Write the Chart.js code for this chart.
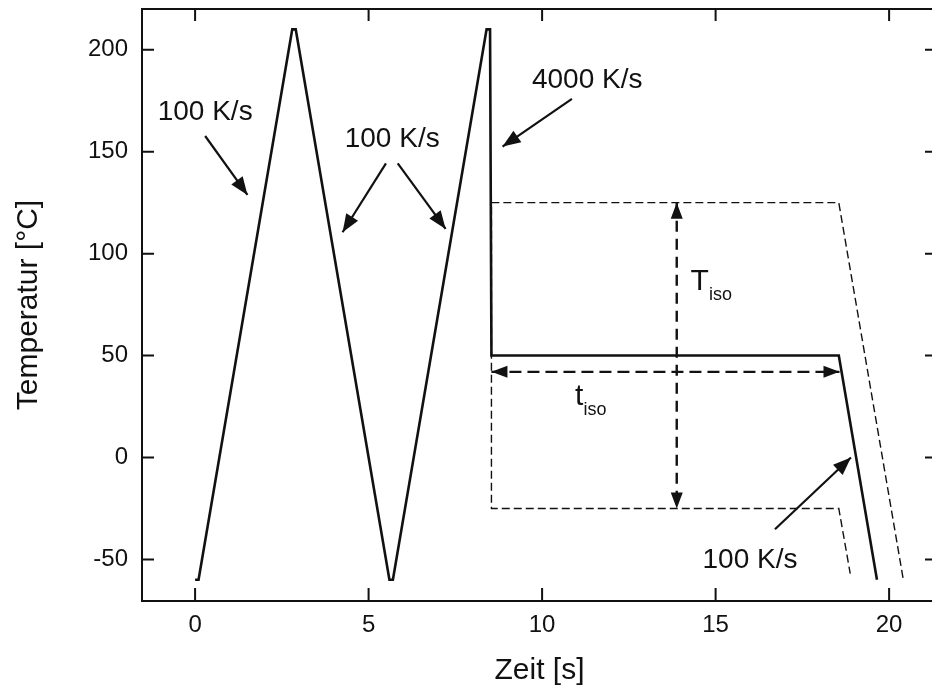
<!DOCTYPE html>
<html lang="de">
<head>
<meta charset="utf-8">
<title>Temperaturprogramm</title>
<script src="https://cdn.jsdelivr.net/npm/chart.js@4.4.1/dist/chart.umd.min.js"></script>
<style>
    html, body { margin: 0; padding: 0; background: #fff; overflow: hidden; }
    .chart-box { position: relative; width: 940px; height: 693px; }
</style>
</head>
<body>
<div class="chart-box">
    <canvas id="tempChart"></canvas>
</div>
<script>
// Temperature programme (time in s, temperature in °C)
const tempTime = [0, 0.1, 2.8, 2.9, 5.6, 5.7, 8.4, 8.5, 8.54, 18.55, 19.65];
const tempValue = [-60, -60, 210, 210, -60, -60, 210, 210, 50, 50, -60];

// Range of isothermal temperatures (dashed envelope)
const envTime = [20.4, 18.55, 8.54, 8.54, 18.55, 18.88];
const envValue = [-59, 125, 125, -25, -25, -57];

// Double arrows for t_iso and T_iso
const holdArrowTime = [8.54, 18.57];
const holdArrowValue = [42, 42];
const stepArrowTime = [13.88, 13.88];
const stepArrowValue = [125, -25];

// Heating / cooling rate arrows: start point -> tip
const rateArrowStartTime = [0.29, 5.50, 5.84, 10.86, 16.71];
const rateArrowStartValue = [157.7, 144.3, 144.3, 175.9, -35.2];
const rateArrowTipTime = [1.51, 4.25, 7.22, 8.86, 18.9];
const rateArrowTipValue = [128.8, 110.5, 112.1, 152.5, 0];

// Rate labels
const rateLabels = ['100 K/s', '100 K/s', '4000 K/s', '100 K/s'];
const rateLabelTime = [0.29, 5.68, 11.30, 15.99];
const rateLabelValue = [165.6, 152.5, 181.3, -54.3];

// Iso labels (main letter + subscript)
const isoLabels = ['T', 't'];
const isoLabelTime = [14.28, 10.95];
const isoLabelValue = [82.4, 25.7];

// Axis ticks
const xTicks = [0, 5, 10, 15, 20];
const yTicks = [-50, 0, 50, 100, 150, 200];

const FONT = '"Liberation Sans", Arial, sans-serif';
const INK = '#111';

function toPoints(xs, ys) {
    return xs.map((v, i) => ({ x: v, y: ys[i] }));
}

const lineDefaults = {
    showLine: true,
    pointRadius: 0,
    pointHoverRadius: 0,
    borderColor: INK,
    tension: 0,
    fill: false
};

const datasets = [
    Object.assign({}, lineDefaults, {
        label: 'Programm',
        data: toPoints(tempTime, tempValue),
        borderWidth: 2.6
    }),
    Object.assign({}, lineDefaults, {
        label: 'Bereich',
        data: toPoints(envTime, envValue),
        borderWidth: 1.4,
        borderDash: [8, 4]
    }),
    Object.assign({}, lineDefaults, {
        label: 't_iso',
        data: toPoints(holdArrowTime, holdArrowValue),
        borderWidth: 2.4,
        borderDash: [12, 6],
        arrow: 'both'
    }),
    Object.assign({}, lineDefaults, {
        label: 'T_iso',
        data: toPoints(stepArrowTime, stepArrowValue),
        borderWidth: 2.4,
        borderDash: [11, 7],
        arrow: 'both'
    })
];

rateArrowStartTime.forEach((t, i) => {
    datasets.push(Object.assign({}, lineDefaults, {
        label: 'Rate ' + i,
        data: toPoints([t, rateArrowTipTime[i]], [rateArrowStartValue[i], rateArrowTipValue[i]]),
        borderWidth: 2.2,
        arrow: 'end'
    }));
});

function drawHead(ctx, fx, fy, tx, ty, len, half) {
    const ang = Math.atan2(ty - fy, tx - fx);
    ctx.save();
    ctx.translate(tx, ty);
    ctx.rotate(ang);
    ctx.beginPath();
    ctx.moveTo(0, 0);
    ctx.lineTo(-len, -half);
    ctx.lineTo(-len, half);
    ctx.closePath();
    ctx.fill();
    ctx.restore();
}

// Frame, inward ticks, arrow heads and text annotations
const decorations = {
    id: 'decorations',
    afterDatasetsDraw(chart) {
        const { ctx, chartArea: a, scales: { x, y } } = chart;
        ctx.save();
        ctx.strokeStyle = INK;
        ctx.fillStyle = INK;
        ctx.lineWidth = 2;
        ctx.setLineDash([]);
        ctx.strokeRect(a.left, a.top, a.right - a.left, a.bottom - a.top);

        ctx.beginPath();
        xTicks.forEach(v => {
            const px = x.getPixelForValue(v);
            ctx.moveTo(px, a.bottom);
            ctx.lineTo(px, a.bottom - 13);
            ctx.moveTo(px, a.top);
            ctx.lineTo(px, a.top + 12);
        });
        yTicks.forEach(v => {
            const py = y.getPixelForValue(v);
            ctx.moveTo(a.left, py);
            ctx.lineTo(a.left + 12, py);
            ctx.moveTo(a.right, py);
            ctx.lineTo(a.right - 12, py);
        });
        ctx.stroke();

        // arrow heads (double arrows a bit slimmer than the rate arrows)
        chart.data.datasets.forEach(ds => {
            if (!ds.arrow) return;
            const p = ds.data.map(d => [x.getPixelForValue(d.x), y.getPixelForValue(d.y)]);
            const n = p.length - 1;
            const both = ds.arrow === 'both';
            const len = both ? 16 : 18;
            const half = both ? 6 : 7;
            drawHead(ctx, p[n - 1][0], p[n - 1][1], p[n][0], p[n][1], len, half);
            if (both) drawHead(ctx, p[1][0], p[1][1], p[0][0], p[0][1], len, half);
        });

        // rate labels
        ctx.font = '28px ' + FONT;
        ctx.textAlign = 'center';
        ctx.textBaseline = 'alphabetic';
        rateLabels.forEach((txt, i) => {
            ctx.fillText(txt, x.getPixelForValue(rateLabelTime[i]), y.getPixelForValue(rateLabelValue[i]));
        });

        // T_iso / t_iso
        ctx.textAlign = 'left';
        isoLabels.forEach((txt, i) => {
            const px = x.getPixelForValue(isoLabelTime[i]);
            const py = y.getPixelForValue(isoLabelValue[i]);
            ctx.font = '30px ' + FONT;
            ctx.fillText(txt, px, py);
            const w = ctx.measureText(txt).width;
            ctx.font = '18px ' + FONT;
            ctx.fillText('iso', px + w, py + 10);
        });
        ctx.restore();
    }
};

const tickFont = { family: FONT, size: 24 };
const titleFont = { family: FONT, size: 30 };

new Chart(document.getElementById('tempChart'), {
    type: 'scatter',
    data: { datasets },
    options: {
        responsive: true,
        maintainAspectRatio: false,
        animation: false,
        layout: { padding: { top: 9, right: 3, left: 0, bottom: 0 } },
        plugins: {
            legend: { display: false },
            tooltip: { enabled: false }
        },
        scales: {
            x: {
                type: 'linear',
                min: -1.53,
                max: 21.38,
                afterBuildTicks: s => { s.ticks = xTicks.map(v => ({ value: v })); },
                afterFit: s => {
                    s.height = 92;
                    s.paddingLeft = 0;
                    s.paddingRight = 0;
                },
                grid: { display: false, drawTicks: false },
                border: { display: false },
                ticks: { color: INK, font: tickFont, padding: 10, maxRotation: 0 },
                title: { display: true, text: 'Zeit [s]', color: INK, font: titleFont, padding: { top: 4, bottom: 4 } }
            },
            y: {
                type: 'linear',
                min: -70.4,
                max: 220,
                afterBuildTicks: s => { s.ticks = yTicks.map(v => ({ value: v })); },
                afterFit: s => {
                    s.width = 142;
                    s.paddingTop = 0;
                    s.paddingBottom = 0;
                },
                grid: { display: false, drawTicks: false },
                border: { display: false },
                ticks: { color: INK, font: tickFont, padding: 14 },
                title: { display: true, text: 'Temperatur [°C]', color: INK, font: titleFont, padding: { top: 11, bottom: 0 } }
            }
        }
    },
    plugins: [decorations]
});
</script>
</body>
</html>
